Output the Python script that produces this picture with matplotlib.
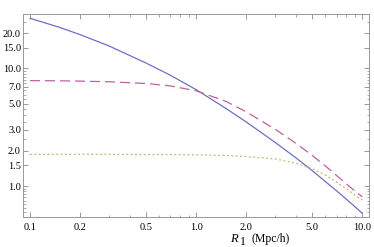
import numpy as np
import matplotlib
matplotlib.use('Agg')
import matplotlib.pyplot as plt
from matplotlib.ticker import FixedLocator, FixedFormatter, LogLocator, NullFormatter

# Wartosci
r1 = [0.1, 0.15, 0.2, 0.3, 0.5, 0.7, 1.0, 1.5, 2.0, 3.0, 4.0, 5.0, 6.0, 7.0, 8.0, 9.0, 10.0]
solid = [26.7, 22.4, 19.4, 15.5, 11.1, 8.75, 6.6, 4.6, 3.51, 2.34, 1.73, 1.35, 1.09, 0.91, 0.775, 0.67, 0.586]
dashed = [7.87, 7.85, 7.8, 7.7, 7.45, 7.1, 6.45, 5.27, 4.28, 3.03, 2.30, 1.82, 1.48, 1.23, 1.046, 0.91, 0.81]
dotted = [1.86, 1.86, 1.86, 1.86, 1.85, 1.85, 1.84, 1.82, 1.78, 1.70, 1.56, 1.40, 1.24, 1.08, 0.95, 0.84, 0.76]

xticks = [0.1, 0.2, 0.5, 1.0, 2.0, 5.0, 10.0]
xlabels = ['0.1', '0.2', '0.5', '1.0', '2.0', '5.0', '10.0']
yticks = [1.0, 1.5, 2.0, 3.0, 5.0, 7.0, 10.0, 15.0, 20.0]
ylabels = ['1.0', '1.5', '2.0', '3.0', '5.0', '7.0', '10.0', '15.0', '20.0']

plt.rcParams['font.family'] = 'Liberation Serif'

fig = plt.figure(figsize=(3.74, 2.47), dpi=100)
ax = fig.add_axes([0.0615, 0.1215, 0.9255, 0.8215])

ax.plot(r1, solid, color='#6e6ec8', lw=0.9)
ax.plot(r1, dashed, color='#c0609c', lw=0.9, dashes=(8, 4))
ax.plot(r1, dotted, color='#c8b46e', lw=0.9, dashes=(1.5, 2))

ax.set_xscale('log')
ax.set_yscale('log')
ax.set_xlim(0.0907, 11.0)
ax.set_ylim(0.545, 29.0)

ax.xaxis.set_major_locator(FixedLocator(xticks))
ax.xaxis.set_major_formatter(FixedFormatter(xlabels))
ax.yaxis.set_major_locator(FixedLocator(yticks))
ax.yaxis.set_major_formatter(FixedFormatter(ylabels))
ax.xaxis.set_minor_locator(LogLocator(base=10, subs=np.arange(1, 10)))
ax.yaxis.set_minor_locator(LogLocator(base=10, subs=np.arange(1, 10, 0.5)))
ax.xaxis.set_minor_formatter(NullFormatter())
ax.yaxis.set_minor_formatter(NullFormatter())

ax.tick_params(which='both', direction='in', top=True, right=True,
               color='#888888', labelsize=7.5)
ax.tick_params(axis='y', pad=1.5)
ax.tick_params(axis='x', pad=4)
ax.tick_params(which='major', length=3.5, width=0.6)
ax.tick_params(which='minor', length=1.8, width=0.5)
for s in ax.spines.values():
    s.set_color('#999999')
    s.set_linewidth(0.7)

fig.text(0.614, 0.022, 'R', fontsize=9, style='italic', ha='left', va='baseline')
fig.text(0.642, 0.010, '1', fontsize=8.5, ha='left', va='baseline')
fig.text(0.672, 0.022, '(Mpc/h)', fontsize=8.5, ha='left', va='baseline')

fig.savefig('out.png', dpi=100)
